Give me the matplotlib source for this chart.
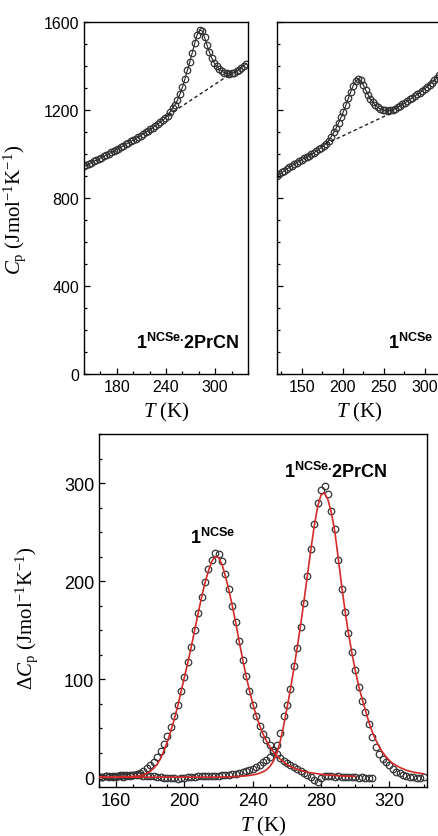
import matplotlib
matplotlib.use("Agg")
import matplotlib.pyplot as plt
from matplotlib.ticker import MultipleLocator

plt.rcParams["font.family"] = "Liberation Sans"
plt.rcParams["mathtext.fontset"] = "custom"
plt.rcParams["mathtext.rm"] = "Liberation Serif"
plt.rcParams["mathtext.it"] = "Liberation Serif:italic"
plt.rcParams["mathtext.bf"] = "Liberation Sans:bold"

# ---- top left: Cp of 1NCSe.2PrCN ----
tl_T = [140, 143, 146, 149, 152, 155, 158, 161, 164, 167, 170, 173, 176, 179, 182, 185,
        188, 191, 194, 197, 200, 203, 206, 209, 212, 215, 218, 221, 224, 227, 230, 233,
        236, 239, 242, 245, 248, 251, 254, 257, 260, 263, 266, 269, 272, 275, 278, 281,
        284, 287, 290, 293, 296, 299, 302, 305, 308, 311, 314, 317, 320, 323, 326, 329,
        332, 335, 338]
tl_Cp = [944, 950, 955, 961, 967, 972, 978, 984, 990, 995, 1001, 1007, 1013, 1019, 1025, 1031,
         1038, 1044, 1051, 1057, 1064, 1070, 1077, 1084, 1091, 1098, 1105, 1112, 1120, 1128, 1136, 1145,
         1153, 1163, 1174, 1192, 1210, 1225, 1245, 1272, 1303, 1340, 1380, 1418, 1460, 1503, 1542, 1563,
         1560, 1530, 1495, 1462, 1435, 1413, 1398, 1386, 1377, 1370, 1366, 1365, 1366, 1370, 1376, 1384,
         1392, 1401, 1411]
tl_base_T = [243, 318]
tl_base_Cp = [1177, 1362]

# ---- top right: Cp of 1NCSe ----
tr_T = [120, 123, 126, 129, 132, 135, 138, 141, 144, 147, 150, 153, 156, 159, 162, 165,
        168, 171, 174, 177, 180, 183, 186, 189, 192, 195, 198, 201, 204, 207, 210, 213,
        216, 219, 222, 225, 228, 231, 234, 237, 240, 243, 246, 249, 252, 255, 258, 261,
        264, 267, 270, 273, 276, 279, 282, 285, 288, 291, 294, 297, 300, 303, 306, 309,
        312, 315, 318]
tr_Cp = [898, 907, 916, 924, 932, 939, 947, 954, 961, 967, 974, 980, 987, 993, 1000, 1006,
         1013, 1021, 1029, 1038, 1047, 1060, 1078, 1098, 1117, 1140, 1166, 1193, 1222, 1253, 1284, 1311,
         1331, 1341, 1335, 1315, 1292, 1270, 1250, 1235, 1222, 1212, 1205, 1201, 1198, 1197, 1198, 1201,
         1206, 1212, 1219, 1226, 1233, 1240, 1248, 1256, 1263, 1271, 1278, 1287, 1296, 1305, 1315, 1325,
         1335, 1346, 1357]
tr_base_T = [179, 262]
tr_base_Cp = [1045, 1191]

# ---- bottom: excess heat capacity ----
a_T = [150, 152, 154, 156, 158, 160, 162, 164, 166, 168, 170, 172, 174, 176, 178, 180,
       182, 184, 186, 188, 190, 192, 194, 196, 198, 200, 202, 204, 206, 208, 210, 212,
       214, 216, 218, 220, 222, 224, 226, 228, 230, 232, 234, 236, 238, 240, 242, 244,
       246, 248, 250, 252, 254, 256, 258, 260, 262, 264, 266, 268, 270, 272, 274, 276,
       278, 280, 282, 284, 286, 288, 290, 292, 294, 296, 298, 300, 302, 304, 306, 308, 310]
a_dCp = [0, 0.5, 1, 0.5, 0, 0.5, 1, 0.5, 1, 1.5, 2, 3, 4.5, 6.5, 9, 12,
         16, 21, 27, 34, 42, 51, 62, 74, 88, 102, 117, 133, 150, 167, 184, 199,
         212, 222, 229, 228, 220, 207, 192, 175, 158, 139, 120, 103, 88, 74, 62, 52,
         44, 38, 33, 28, 24, 20, 17, 14, 12, 10, 8, 6, 4, 2, 0, -3,
         -5, -1, 1, 1.5, 1, 0.5, 1, 0.5, 0, 0.5, 0, 0, -0.5, 0, -0.5, -0.5, -0.5]
a_fit_T = [150, 152, 154, 156, 158, 160, 162, 164, 166, 168, 170, 172, 174, 176, 178, 180,
           182, 184, 186, 188, 190, 192, 194, 196, 198, 200, 202, 204, 206, 208, 210, 212,
           214, 216, 218, 220, 222, 224, 226, 228, 230, 232, 234, 236, 238, 240, 242, 244,
           246, 248, 250, 252, 254, 256, 258, 260, 262, 264, 266, 268, 270, 272, 274, 276,
           278, 280, 282, 284, 286, 288, 290, 292, 294, 296, 298, 300]
a_fit = [0, 0, 0, 0, 0, 0, 0.5, 0.5, 0.5, 0.5, 1, 1, 1.5, 2.5, 4, 6,
         9, 13, 19, 27, 36, 47, 59, 72, 87, 102, 117, 133, 150, 167, 183, 198,
         210, 220, 225, 224, 217, 205, 191, 175, 158, 139, 121, 104, 89, 75, 63, 53,
         44, 37, 31, 26, 22, 18.5, 15.5, 13, 11, 9.5, 8, 7, 6, 5, 4.5, 4,
         3.5, 3, 2.5, 2.2, 2, 1.7, 1.5, 1.3, 1.1, 1, 0.9, 0.8]

b_T = [150, 152, 154, 156, 158, 160, 162, 164, 166, 168, 170, 172, 174, 176, 178, 180,
       182, 184, 186, 188, 190, 192, 194, 196, 198, 200, 202, 204, 206, 208, 210, 212,
       214, 216, 218, 220, 222, 224, 226, 228, 230, 232, 234, 236, 238, 240, 242, 244,
       246, 248, 250, 252, 254, 256, 258, 260, 262, 264, 266, 268, 270, 272, 274, 276,
       278, 280, 282, 284, 286, 288, 290, 292, 294, 296, 298, 300, 302, 304, 306, 308,
       310, 312, 314, 316, 318, 320, 322, 324, 326, 328, 330, 332, 334, 336, 338, 340]
b_dCp = [0, 0.5, 1, 1, 1.5, 1.5, 2, 2, 2, 2, 2, 2, 2, 1.5, 1.5, 1,
         1, 0.5, 0, -0.5, -1, -1, -1, -1.5, -1, -0.5, 0, 0, 0.5, 1, 1, 1,
         1, 1, 1.5, 1.5, 2, 2, 2.5, 3, 3.5, 4, 5, 6, 7, 8, 10, 12,
         15, 18, 21, 26, 33, 45, 62, 74, 90, 113, 132, 153, 178, 205, 233, 258,
         280, 293, 297, 289, 271, 253, 221, 192, 168, 147, 128, 109, 92, 78, 66, 54,
         41, 31, 24, 19, 15, 12, 8, 5.5, 4, 2.5, 1.5, 0.5, 0, -0.5, -0.5, 0]
b_fit = [0, 0, 0, 0, 0, 0, 0, 0, 0, 0, 0, 0, 0, 0, 0, 0,
         0, 0, 0, 0, 0, 0, 0, 0, 0, 0, 0, 0, 0, 0, 0, 0.1,
         0.1, 0.1, 0.1, 0.2, 0.2, 0.3, 0.4, 0.5, 0.7, 0.9, 1.1, 1.4, 1.8, 2.3, 3, 4,
         5.5, 7.5, 11, 16, 24, 36, 52, 70, 89, 110, 132, 155, 180, 206, 232, 256,
         276, 288, 290, 283, 270, 251, 224, 196, 170, 147, 127, 109, 93, 80, 68, 56,
         46, 38, 31, 25.5, 21, 17, 14, 12, 10, 8.5, 7, 6, 5.2, 4.5, 4, 3.5]

MK = dict(marker="o", markersize=4.7, markerfacecolor="none",
          markeredgecolor="#333333", markeredgewidth=0.9)
RED = "#d42a2a"
SERIF = "Liberation Serif"
LBL_BOTH = r"$\mathbf{1^{NCSe.}\!2PrCN}$"
LBL_ONE = r"$\mathbf{1^{NCSe}}$"


def style(ax, size):
    for s in ax.spines.values():
        s.set_linewidth(1.0)
    ax.tick_params(which="both", direction="in", top=False, right=False,
                   labelsize=size, width=0.9)
    ax.tick_params(which="major", length=4)
    ax.tick_params(which="minor", length=2.5)


fig = plt.figure(figsize=(4.39, 8.37), dpi=100)
W, H = 439.0, 837.0
ax1 = fig.add_axes([84 / W, (H - 375) / H, 164 / W, 352 / H])
ax2 = fig.add_axes([277 / W, (H - 375) / H, 164 / W, 352 / H])
ax3 = fig.add_axes([99 / W, (H - 788) / H, 328 / W, 353 / H])

# top left
ax1.plot(tl_T, tl_Cp, color="#222222", lw=0.8, **MK)
ax1.plot(tl_base_T, tl_base_Cp, color="#222222", lw=1.0, ls=(0, (2.5, 2)))
ax1.set_xlim(140, 340)
ax1.set_ylim(0, 1600)
ax1.xaxis.set_minor_locator(MultipleLocator(20))
ax1.set_xticks([180, 240, 300])
ax1.yaxis.set_major_locator(MultipleLocator(400))
ax1.yaxis.set_minor_locator(MultipleLocator(100))
style(ax1, 11.5)
ax1.set_ylabel(r"$C_\mathrm{p}$ (Jmol$^{\mathrm{-1}}$K$^{\mathrm{-1}}$)",
               fontsize=15, family=SERIF)
ax1.yaxis.set_label_coords(-0.34, 0.47)
ax1.set_xlabel(r"$T$ (K)", fontsize=15, family=SERIF)
ax1.xaxis.set_label_coords(0.5, -0.075)
ax1.text(0.945, 0.09, LBL_BOTH, transform=ax1.transAxes,
         ha="right", va="center", fontsize=13)

# top right
ax2.plot(tr_T, tr_Cp, color="#222222", lw=0.8, **MK)
ax2.plot(tr_base_T, tr_base_Cp, color="#222222", lw=1.0, ls=(0, (2.5, 2)))
ax2.set_xlim(120, 320)
ax2.set_ylim(0, 1600)
ax2.xaxis.set_minor_locator(MultipleLocator(25))
ax2.set_xticks([150, 200, 250, 300])
ax2.yaxis.set_major_locator(MultipleLocator(400))
ax2.yaxis.set_minor_locator(MultipleLocator(100))
style(ax2, 11.5)
ax2.set_yticklabels([])
ax2.set_xlabel(r"$T$ (K)", fontsize=15, family=SERIF)
ax2.xaxis.set_label_coords(0.5, -0.075)
ax2.text(0.951, 0.09, LBL_ONE, transform=ax2.transAxes,
         ha="right", va="center", fontsize=13)

# bottom
ax3.plot(a_T, a_dCp, ls="none", **MK)
ax3.plot(b_T, b_dCp, ls="none", **MK)
ax3.plot(a_fit_T, a_fit, color=RED, lw=1.2, zorder=5)
ax3.plot(b_T, b_fit, color=RED, lw=1.2, zorder=5)
ax3.set_xlim(150, 342)
ax3.set_ylim(-10, 350)
ax3.xaxis.set_major_locator(MultipleLocator(40))
ax3.xaxis.set_minor_locator(MultipleLocator(10))
ax3.yaxis.set_major_locator(MultipleLocator(100))
ax3.yaxis.set_minor_locator(MultipleLocator(25))
style(ax3, 13)
ax3.set_ylabel("Δ" + r"$C_\mathrm{p}$ (Jmol$^{\mathrm{-1}}$K$^{\mathrm{-1}}$)",
               fontsize=15, family=SERIF)
ax3.yaxis.set_label_coords(-0.18, 0.48)
ax3.set_xlabel(r"$T$ (K)", fontsize=15, family=SERIF)
ax3.xaxis.set_label_coords(0.5, -0.075)
ax3.text(216.5, 245, LBL_ONE, ha="center", va="center", fontsize=13)
ax3.text(288.7, 312, LBL_BOTH, ha="center", va="center", fontsize=13)

fig.savefig("out.png", dpi=100)
